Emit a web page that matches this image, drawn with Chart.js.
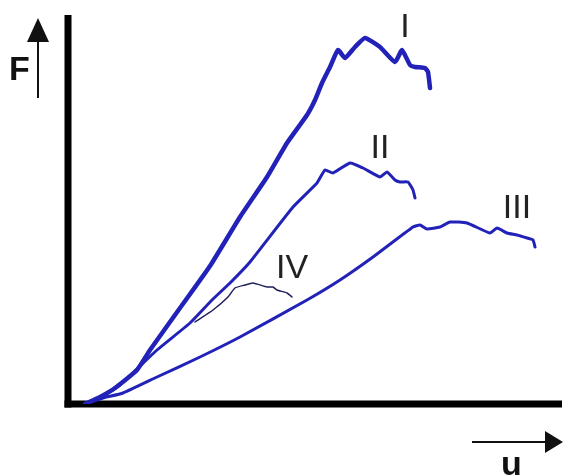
<!DOCTYPE html>
<html><head><meta charset="utf-8">
<script src="https://cdn.jsdelivr.net/npm/chart.js@4"></script>
<style>html,body{margin:0;padding:0;background:#fff;}#wrap{width:564px;height:476px;}</style>
</head><body><div id="wrap"><canvas id="c" width="564" height="476"></canvas></div>
<script>
// displacement u and force F (arbitrary units)
const uI = [17,32,47,69,82,112,142,172,199,219,239,247,254,262,270,277,287,297,312,327,334,342,347,357,360,362];
const fI = [0,7,16,34,54,96,138,187,227,261,289,304,321,337,354,346,357,366,357,342,354,339,337,336,332,316];
const uII = [17,32,52,89,122,144,162,182,225,249,257,265,282,295,312,319,327,332,340,345,347];
const fII = [0,6,19,54,81,104,121,142,197,221,234,231,241,236,227,232,224,222,222,214,206];
const uIII = [17,35,55,89,132,172,239,272,305,345,352,359,372,382,399,422,429,439,449,459,465,467];
const fIII = [0,6,11,27,47,67,104,124,147,177,179,175,177,182,181,171,176,171,169,166,164,157];
const uIV = [127,145,160,167,177,185,199,205,209,219,224];
const fIV = [82,94,107,116,119,121,117,117,114,111,107];
const curveLabels = ['I','II','III','IV'];
const labelPos = [[337,367],[312,246],[449,186],[224,126]]; // label anchor (u,F)

const pts = (u,f)=>u.map((v,i)=>({x:v,y:f[i]}));
const blue = '#2222b8';

const overlay = {
  id:'overlay',
  beforeDatasetsDraw(chart){
    const {ctx, chartArea:a} = chart;
    ctx.save();
    ctx.strokeStyle='#000'; ctx.lineWidth=7; ctx.lineCap='butt';
    ctx.beginPath(); ctx.moveTo(a.left, a.top); ctx.lineTo(a.left, a.bottom+3.5); ctx.stroke();
    ctx.beginPath(); ctx.moveTo(a.left-3.5, a.bottom); ctx.lineTo(562, a.bottom); ctx.stroke();
    ctx.restore();
  },
  afterDatasetsDraw(chart){
    const {ctx, scales:{x,y}} = chart;
    ctx.save();
    // F arrow
    ctx.strokeStyle='#111'; ctx.fillStyle='#111'; ctx.lineWidth=2;
    ctx.beginPath(); ctx.moveTo(38,98); ctx.lineTo(38,38); ctx.stroke();
    ctx.beginPath(); ctx.moveTo(38,18); ctx.lineTo(49,42); ctx.lineTo(27,42); ctx.closePath(); ctx.fill();
    // u arrow
    ctx.beginPath(); ctx.moveTo(472,442); ctx.lineTo(548,442); ctx.stroke();
    ctx.beginPath(); ctx.moveTo(563,442); ctx.lineTo(545,431); ctx.lineTo(545,453); ctx.closePath(); ctx.fill();
    ctx.font='bold 34px "Liberation Sans", Arial, sans-serif';
    ctx.textAlign='left'; ctx.textBaseline='alphabetic';
    ctx.fillText('F',9,80);
    ctx.fillText('u',501,475);
    // curve labels
    ctx.fillStyle='#222';
    ctx.font='34px "Liberation Sans", Arial, sans-serif';
    ctx.textAlign='center';
    curveLabels.forEach((t,i)=>{
      ctx.fillText(t, x.getPixelForValue(labelPos[i][0]), y.getPixelForValue(labelPos[i][1]));
    });
    ctx.restore();
  }
};

new Chart(document.getElementById('c'), {
  type:'line',
  data:{datasets:[
    {label:'I', data:pts(uI,fI), borderColor:blue, borderWidth:4.5},
    {label:'II', data:pts(uII,fII), borderColor:blue, borderWidth:3},
    {label:'III', data:pts(uIII,fIII), borderColor:blue, borderWidth:3},
    {label:'IV', data:pts(uIV,fIV), borderColor:'#1e1e5a', borderWidth:1.5}
  ]},
  options:{
    responsive:false, animation:false, parsing:true,
    layout:{padding:{left:68,right:4,top:15,bottom:72}},
    elements:{point:{radius:0}, line:{tension:0.15, fill:false, borderJoinStyle:'round', borderCapStyle:'round'}},
    plugins:{legend:{display:false}, tooltip:{enabled:false}},
    scales:{
      x:{type:'linear', min:0, max:492, display:false},
      y:{type:'linear', min:0, max:389, display:false}
    }
  },
  plugins:[overlay]
});
</script></body></html>
